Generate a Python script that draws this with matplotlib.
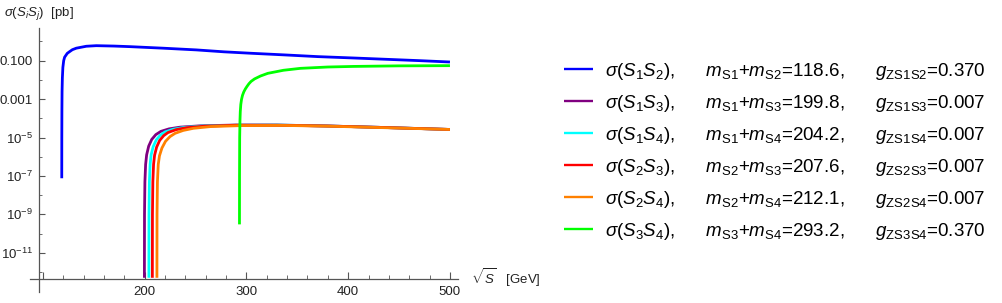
import matplotlib
matplotlib.use('Agg')
import matplotlib.pyplot as plt
import numpy as np

plt.rcParams['font.family'] = ['Liberation Sans', 'DejaVu Sans']
plt.rcParams['mathtext.fontset'] = 'custom'
plt.rcParams['mathtext.rm'] = 'Liberation Sans'
plt.rcParams['mathtext.it'] = 'Liberation Sans:italic'
plt.rcParams['mathtext.bf'] = 'Liberation Sans:bold'

# 读图得到的数据 (x: sqrt(S) [GeV], y: log10(sigma [pb]))
x_s1s2 = [118.6, 118.65, 118.75, 118.9, 119.2, 119.7, 120.5, 121.4, 124.0, 126.3, 129.0, 132.9, 142.7,
          152.5, 170.0, 185.3, 218.0, 250.8, 278.0, 304.6, 337.4, 370.3, 405.0, 437.8, 470.5, 500.0]
y_s1s2 = [-7.12, -5.0, -3.6, -2.6, -1.9, -1.35, -1.0, -0.82, -0.62, -0.53, -0.43, -0.35, -0.25,
          -0.22, -0.24, -0.27, -0.35, -0.44, -0.54, -0.615, -0.70, -0.79, -0.86, -0.93, -1.0, -1.07]

x_s1s3 = [199.8, 199.9, 200.3, 201.0, 202.0, 204.0, 207.0, 211.0, 216.0, 224.0, 235.0, 255.0,
          290.0, 330.0, 380.0, 430.0, 500.0]
y_s1s3 = [-12.3, -9.0, -7.3, -6.4, -5.9, -5.45, -5.1, -4.85, -4.68, -4.55, -4.46, -4.39,
          -4.35, -4.35, -4.40, -4.47, -4.58]

x_s1s4 = [204.2, 204.3, 204.7, 205.4, 206.4, 208.4, 211.4, 215.4, 220.0, 228.0, 238.0, 257.0,
          290.0, 330.0, 380.0, 430.0, 500.0]
y_s1s4 = [-12.3, -9.0, -7.3, -6.4, -5.9, -5.48, -5.13, -4.88, -4.71, -4.57, -4.48, -4.40,
          -4.36, -4.35, -4.40, -4.47, -4.58]

x_s2s3 = [207.6, 207.7, 208.1, 208.8, 209.8, 211.8, 214.8, 218.8, 223.0, 231.0, 241.0, 259.0,
          290.0, 330.0, 380.0, 430.0, 500.0]
y_s2s3 = [-12.3, -9.0, -7.3, -6.4, -5.92, -5.5, -5.15, -4.9, -4.74, -4.59, -4.49, -4.41,
          -4.36, -4.36, -4.40, -4.47, -4.58]

x_s2s4 = [212.1, 212.2, 212.6, 213.4, 214.6, 217.0, 220.5, 225.0, 230.0, 238.0, 248.0, 265.0,
          295.0, 335.0, 380.0, 430.0, 500.0]
y_s2s4 = [-12.3, -9.0, -7.3, -6.4, -5.95, -5.55, -5.2, -4.95, -4.78, -4.63, -4.52, -4.43,
          -4.38, -4.37, -4.41, -4.48, -4.58]

x_s3s4 = [293.2, 293.25, 293.4, 293.7, 294.0, 294.5, 295.2, 296.2, 297.5, 299.0, 300.6, 302.5,
          304.6, 308.0, 313.8, 321.0, 336.4, 353.0, 380.0, 405.0, 450.0, 500.0]
y_s3s4 = [-9.52, -7.0, -5.0, -4.1, -3.65, -3.28, -3.02, -2.8, -2.62, -2.47, -2.34, -2.2,
          -2.08, -1.95, -1.8, -1.66, -1.5, -1.4, -1.33, -1.30, -1.27, -1.26]

pairs = ['S_1S_2', 'S_1S_3', 'S_1S_4', 'S_2S_3', 'S_2S_4', 'S_3S_4']
msum_idx = [('S1', 'S2'), ('S1', 'S3'), ('S1', 'S4'), ('S2', 'S3'), ('S2', 'S4'), ('S3', 'S4')]
msum = ['118.6', '199.8', '204.2', '207.6', '212.1', '293.2']
gz = ['0.370', '0.007', '0.007', '0.007', '0.007', '0.370']
colors = ['#0000ff', '#800080', '#00ffff', '#ff0000', '#ff8000', '#00ff00']

xs = [x_s1s2, x_s1s3, x_s1s4, x_s2s3, x_s2s4, x_s3s4]
ys = [y_s1s2, y_s1s3, y_s1s4, y_s2s3, y_s2s4, y_s3s4]

fig = plt.figure(figsize=(10.03, 3.03), dpi=100)
W, H = 1003, 303
# 坐标轴位置 (像素)
ax = fig.add_axes([30 / W, (H - 292) / H, 428 / W, 264 / H])

handles = []
labels = []
for k in range(6):
    h, = ax.plot(xs[k], 10 ** np.array(ys[k]), color=colors[k], lw=2.0, solid_capstyle='butt')
    handles.append(h)
    a, b = msum_idx[k]
    sp = '      '
    labels.append(r'$\sigma(%s)$,' % pairs[k] + sp
                  + r'$m_{\rm %s}$+$m_{\rm %s}$=%s,' % (a, b, msum[k]) + sp
                  + r'$g_{\rm Z%s%s}$=%s' % (a, b, gz[k]))

ax.set_yscale('log')
ax.set_xlim(87.4, 507.9)
ax.set_ylim(10 ** -13.04, 10 ** 0.70)

axc = '#555555'
ax.spines['top'].set_visible(False)
ax.spines['right'].set_visible(False)
ax.spines['left'].set_position(('data', 95.97))
ax.spines['bottom'].set_position(('data', 10 ** -12.385))
for s in ['left', 'bottom']:
    ax.spines[s].set_color(axc)
    ax.spines[s].set_linewidth(0.9)

ax.set_xticks([100, 200, 300, 400, 500])
ax.set_xticklabels(['', '200', '300', '400', '500'])
ax.set_xticks(np.arange(120, 500, 20), minor=True)
yt = [1e-1, 1e-3, 1e-5, 1e-7, 1e-9, 1e-11]
ax.set_yticks(yt)
ax.set_yticklabels(['0.100', '0.001', r'$10^{-5}$', r'$10^{-7}$', r'$10^{-9}$', r'$10^{-11}$'])
ax.set_yticks([10.0 ** e for e in range(0, -13, -2)], minor=True)
ax.set_yticklabels([], minor=True)
ax.tick_params(axis='both', which='both', direction='in', colors=axc, labelcolor='#222222',
               labelsize=9.5)
ax.tick_params(axis='x', which='major', length=5, width=0.8, pad=5)
ax.tick_params(axis='x', which='minor', length=3, width=0.6)
ax.tick_params(axis='y', which='major', length=4, width=0.8, pad=4)
ax.tick_params(axis='y', which='minor', length=2.5, width=0.6)
ax.patch.set_visible(False)

ax.text(521, 10 ** -12.3, r'$\sqrt{S}$   [GeV]', fontsize=9.5, color='#222222',
        va='center', ha='left', clip_on=False)
fig.text(4 / W, 1 - 14 / H, r'$\sigma(S_iS_j)$  [pb]', fontsize=9.5, color='#222222',
         va='center', ha='left')

leg = fig.legend(handles, labels, loc='upper left', bbox_to_anchor=(564 / W, 1 - 61 / H),
                 frameon=False, fontsize=13.5, handlelength=1.55, handletextpad=0.62,
                 labelspacing=0.585, borderaxespad=0, borderpad=0)
for line in leg.get_lines():
    line.set_linewidth(1.7)

fig.savefig('out.png', dpi=100)
